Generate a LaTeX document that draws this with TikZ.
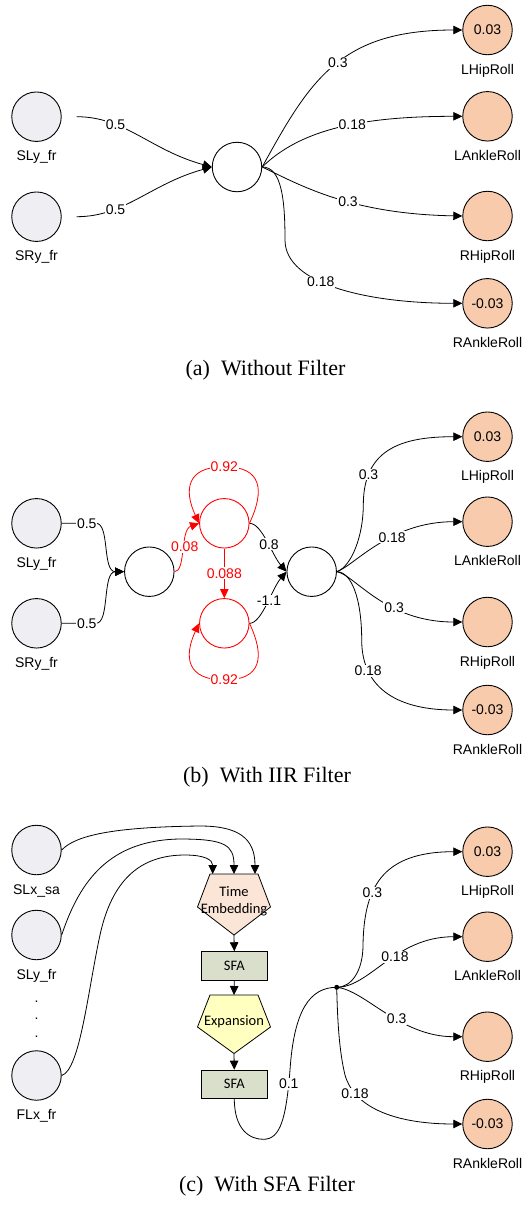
\documentclass[tikz,border=0pt]{standalone}
\usepackage{fontspec}
\setmainfont{Liberation Serif}
\newfontfamily\arialf{Liberation Sans}
\newfontfamily\calibf{Carlito}
\usetikzlibrary{arrows.meta}
\definecolor{inpfill}{RGB}{238,238,243}
\definecolor{outfill}{HTML}{F8CBAD}
\definecolor{tefill}{HTML}{FBE5D6}
\definecolor{sfafill}{RGB}{218,223,204}
\definecolor{expfill}{RGB}{255,255,192}
\definecolor{redc}{RGB}{255,0,0}
\begin{document}
\begin{tikzpicture}[x=1pt,y=-1pt,
  every node/.style={font=\arialf\fontsize{14}{16}\selectfont},
  neuron/.style={circle,draw,line width=0.9pt,minimum size=49.5pt,inner sep=0pt},
  inp/.style={neuron,fill=inpfill},
  hid/.style={neuron,fill=white},
  outn/.style={neuron,fill=outfill},
  redn/.style={neuron,draw=redc,fill=white},
  nlbl/.style={anchor=base,inner sep=0pt},
  elbl/.style={fill=white,inner sep=1pt},
  relbl/.style={elbl,text=redc},
  con/.style={line width=0.8pt,-{Triangle[length=9pt,width=8.5pt]}},
  rcon/.style={con,color=redc},
  plain/.style={line width=0.8pt},
  sfab/.style={draw,fill=sfafill,line width=0.8pt,minimum width=66pt,minimum height=28.3pt,inner sep=0pt,font=\calibf\fontsize{14.5}{17}\selectfont},
  pent/.style={draw,line width=0.8pt,line join=miter},
  ptxt/.style={font=\calibf\fontsize{14.5}{17.5}\selectfont,align=center,inner sep=0pt},
  captxt/.style={font=\rmfamily\fontsize{22}{26}\selectfont,inner sep=0pt},
  dotn/.style={inner sep=0pt},
]
\useasboundingbox (0,0) rectangle (523,1205);

% ================= (a) =================
\node[inp] (aSL) at (36.5,116.7) {};
\node[inp] (aSR) at (36.5,216.7) {};
\node[nlbl] (aSLl) at (36.5,160.7) {SLy\_fr};
\node[nlbl] (aSRl) at (36.5,260.7) {SRy\_fr};
\node[hid] (aH) at (237,167) {};
\node[outn] (aO1) at (487.5,30) {0.03};
\node[outn] (aO2) at (487.5,116.3) {};
\node[outn] (aO3) at (487.5,216) {};
\node[outn] (aO4) at (487.5,303.3) {-0.03};
\node[nlbl] (aO1l) at (487.5,74) {LHipRoll};
\node[nlbl] (aO2l) at (487.5,160.3) {LAnkleRoll};
\node[nlbl] (aO3l) at (487.5,260) {RHipRoll};
\node[nlbl] (aO4l) at (487.5,347.3) {RAnkleRoll};

\draw[con] ([xshift=15pt]aSL.east) .. controls (125,116.7) and (150,150) .. (aH.west) node[elbl,pos=0.3]{0.5};
\draw[con] ([xshift=15pt]aSR.east) .. controls (125,216.7) and (150,184) .. (aH.west) node[elbl,pos=0.3]{0.5};
\draw[con] (aH.east) .. controls (310,80) and (340,30) .. (aO1.west) node[elbl,pos=0.52]{0.3};
\draw[con] (aH.east) .. controls (300,130) and (360,116.3) .. (aO2.west) node[elbl,pos=0.57]{0.18};
\draw[con] (aH.east) .. controls (300,185) and (350,214) .. (aO3.west) node[elbl,pos=0.57]{0.3};
\draw[con] (aH.east) .. controls (281.7,167) and (285,200) .. (285,240) .. controls (285,285) and (370,303.3) .. (aO4.west) node[elbl,pos=0.4]{0.18};

\node[captxt] (capa) at (265.5,370) {(a)\hspace{0.5em}Without Filter};

% ================= (b) =================
\node[inp] (bSL) at (36.5,523.3) {};
\node[inp] (bSR) at (36.5,623.3) {};
\node[nlbl] (bSLl) at (36.5,567.3) {SLy\_fr};
\node[nlbl] (bSRl) at (36.5,667.3) {SRy\_fr};
\node[hid] (bH1) at (149.3,571.7) {};
\node[redn] (bRT) at (224.3,523.3) {};
\node[redn] (bRB) at (224.3,623.3) {};
\node[hid] (bH2) at (311.7,571.7) {};
\node[outn] (bO1) at (487.5,436.7) {0.03};
\node[outn] (bO2) at (487.5,521.7) {};
\node[outn] (bO3) at (487.5,622) {};
\node[outn] (bO4) at (487.5,710) {-0.03};
\node[nlbl] (bO1l) at (487.5,480.7) {LHipRoll};
\node[nlbl] (bO2l) at (487.5,565.7) {LAnkleRoll};
\node[nlbl] (bO3l) at (487.5,666) {RHipRoll};
\node[nlbl] (bO4l) at (487.5,754) {RAnkleRoll};

\draw[con] (bSL.east) -- (96,523.3) node[elbl,pos=0.73]{0.5} .. controls (110,523.3) and (102,571.7) .. (bH1.west);
\draw[con] (bSR.east) -- (96,623.3) node[elbl,pos=0.73]{0.5} .. controls (110,623.3) and (102,571.7) .. (bH1.west);
\draw[rcon] (bH1.east) .. controls (186,571.7) and (180,530) .. (bRT.west) node[relbl,pos=0.55]{0.08};
\draw[rcon] (bRT.east) .. controls (265,490) and (262,466.7) .. (224.3,466.7) node[relbl]{0.92} .. controls (186.6,466.7) and (183.6,490) .. (bRT.west);
\draw[rcon] (bRT.south) -- (bRB.north) node[relbl,midway]{0.088};
\draw[rcon] (bRB.east) .. controls (265,656.6) and (262,680) .. (224.3,680) node[relbl]{0.92} .. controls (186.6,680) and (183.6,656.6) .. (bRB.west);
\draw[con] (bRT.east) .. controls (262,523.3) and (272,555) .. (bH2.west) node[elbl,pos=0.55]{0.8};
\draw[con] (bRB.east) .. controls (262,623.3) and (272,588.4) .. (bH2.west) node[elbl,pos=0.55]{-1.1};
\draw[con] (bH2.east) .. controls (352,566) and (363.3,535) .. (363.3,505) .. controls (363.3,450) and (400,436.7) .. (bO1.west) node[elbl,pos=0.22]{0.3};
\draw[con] (bH2.east) .. controls (355,565) and (390,521.7) .. (bO2.west) node[elbl,pos=0.6]{0.18};
\draw[con] (bH2.east) .. controls (355,575) and (385,622) .. (bO3.west) node[elbl,pos=0.63]{0.3};
\draw[con] (bH2.east) .. controls (352,572) and (361.7,600) .. (361.7,640) .. controls (361.7,690) and (400,710) .. (bO4.west) node[elbl,pos=0.24]{0.18};

\node[captxt] (capb) at (267,777) {(b)\hspace{0.5em}With IIR Filter};

% ================= (c) =================
\node[inp] (cSLx) at (36.5,850) {};
\node[inp] (cSLy) at (36.5,935) {};
\node[inp] (cFLx) at (36.5,1075.5) {};
\node[nlbl] (cSLxl) at (36.5,894) {SLx\_sa};
\node[nlbl] (cSLyl) at (36.5,979) {SLy\_fr};
\node[nlbl] (cFLxl) at (36.5,1119.5) {FLx\_fr};
\node[dotn] (d1) at (36.5,1001.7) {.};
\node[dotn] (d2) at (36.5,1019) {.};
\node[dotn] (d3) at (36.5,1036.7) {.};

% Time Embedding pentagon
\draw[pent,fill=tefill] (210,874) -- (258,874) -- (270.5,907) -- (234,935) -- (197.5,907) -- cycle;
\node[ptxt] (te) at (234,901) {Time\\Embedding};
\coordinate (teA1) at (212.7,874);
\coordinate (teA2) at (234,874);
\coordinate (teA3) at (255,874);
\coordinate (teB) at (234,935);
% SFA boxes
\node[sfab] (sfa1) at (234.3,965.8) {SFA};
\node[sfab] (sfa2) at (234.3,1084.2) {SFA};
% Expansion pentagon
\draw[pent,fill=expfill] (210,995) -- (258,995) -- (270.5,1027) -- (234,1053.5) -- (197.5,1027) -- cycle;
\node[ptxt] (exp) at (234,1022) {Expansion};
\coordinate (expT) at (234,995);
\coordinate (expB) at (234,1053.5);

\node[outn] (cO1) at (487.5,851.7) {0.03};
\node[outn] (cO2) at (487.5,936.7) {};
\node[outn] (cO3) at (487.5,1036.7) {};
\node[outn] (cO4) at (487.5,1124) {-0.03};
\node[nlbl] (cO1l) at (487.5,895.7) {LHipRoll};
\node[nlbl] (cO2l) at (487.5,980.7) {LAnkleRoll};
\node[nlbl] (cO3l) at (487.5,1080.7) {RHipRoll};
\node[nlbl] (cO4l) at (487.5,1168) {RAnkleRoll};

\draw[con] (cSLx.east) .. controls (75,836) and (110,827) .. (200,826) .. controls (238,826) and (255,838) .. (teA3);
\draw[con] (cSLy.east) .. controls (80,880) and (110,840) .. (180,839) .. controls (225,839) and (234,845) .. (teA2);
\draw[con] (cFLx.east) .. controls (80,1070) and (88,990) .. (100,935) .. controls (112,880) and (140,855) .. (185,855) .. controls (205,855) and (212.7,860) .. (teA1);
\draw[con] (teB) -- (sfa1.north);
\draw[con] (sfa1.south) -- (expT);
\draw[con] (expB) -- (sfa2.north);

\coordinate (Jc) at (336.7,987.3);
\draw[plain] (sfa2.south) .. controls (234.3,1130) and (250,1139.3) .. (263.3,1139.3) .. controls (280,1139.3) and (286,1120) .. (290,1070) node[elbl,pos=0.9]{0.1} .. controls (294,1010) and (310,987.3) .. (Jc);
\draw[con] (Jc) .. controls (352,987.3) and (363,970) .. (363,945) .. controls (364,890) and (380,851.7) .. (cO1.west) node[elbl,pos=0.36]{0.3};
\draw[con] (Jc) .. controls (370,987.3) and (395,936.7) .. (cO2.west) node[elbl,pos=0.57]{0.18};
\draw[con] (Jc) .. controls (365,990) and (400,1036.7) .. (cO3.west) node[elbl,pos=0.58]{0.3};
\draw[con] (Jc) .. controls (337.5,1020) and (339,1050) .. (345,1075) .. controls (355,1110) and (400,1124) .. (cO4.west) node[elbl,pos=0.2]{0.18};
\node[circle,fill,inner sep=0pt,minimum size=5pt] (J) at (Jc) {};

\node[captxt] (capc) at (267,1186) {(c)\hspace{0.5em}With SFA Filter};
\end{tikzpicture}
\end{document}
